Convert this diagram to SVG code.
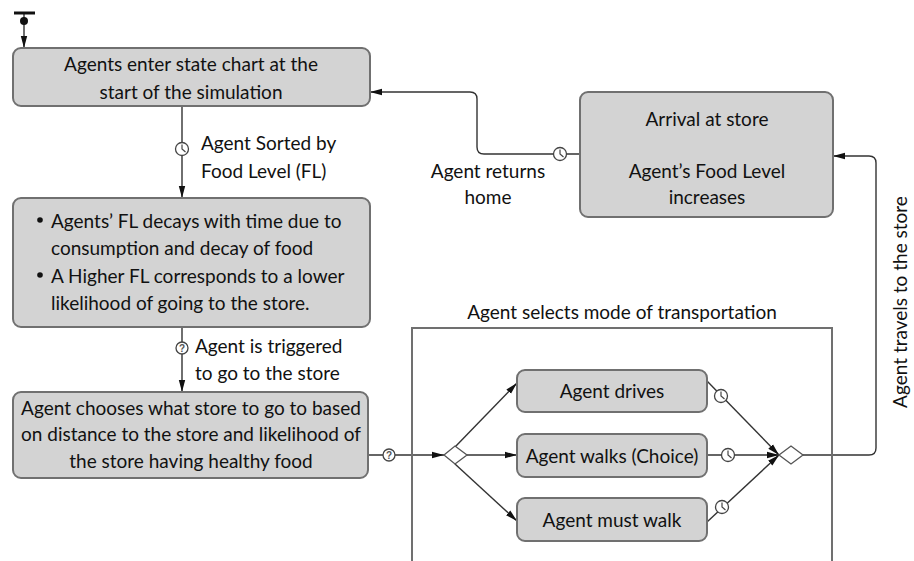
<svg xmlns="http://www.w3.org/2000/svg" width="914" height="561" viewBox="0 0 914 561">
<style>
.box{fill:#d3d3d3;stroke:#707070;stroke-width:2}
.t{font-family:Lato,"Open Sans",sans-serif;font-size:19px;fill:#111;text-anchor:middle;dominant-baseline:central}
.tl{font-family:Lato,"Open Sans",sans-serif;font-size:19px;fill:#111;dominant-baseline:central}
.ln{fill:none;stroke:#333;stroke-width:1.4}
.ic{fill:#fff;stroke:#444;stroke-width:1.3}
.q{font-family:"Liberation Sans",sans-serif;font-size:10px;font-weight:bold;fill:#555;text-anchor:middle;dominant-baseline:central}
</style>
<defs>
<marker id="ah" viewBox="0 0 12 8" refX="12" refY="4" markerWidth="12" markerHeight="8" markerUnits="userSpaceOnUse" orient="auto">
<path d="M0,0.8 L12,4 L0,7.2 Z" fill="#111"/>
</marker>
<g id="clk"><circle r="6.5" class="ic"/><path d="M0,-4.5 V0 L3.5,3" fill="none" stroke="#444" stroke-width="1.2"/></g>
<g id="qst"><circle r="6" class="ic"/><text class="q" y="0.5">?</text></g>
</defs>

<g id="connectors">
<line x1="24" y1="13" x2="24" y2="48" class="ln" marker-end="url(#ah)"/>
<line x1="182" y1="106" x2="182" y2="198" class="ln" marker-end="url(#ah)"/>
<use href="#clk" x="182" y="149"/>
<line x1="182" y1="327" x2="182" y2="392" class="ln" marker-end="url(#ah)"/>
<use href="#qst" x="182" y="348"/>
<path d="M368,455 H444" class="ln" marker-end="url(#ah)"/>
<use href="#qst" x="389" y="455"/>
<path d="M455,447 L517,383" class="ln" marker-end="url(#ah)"/>
<path d="M467,455 H517" class="ln" marker-end="url(#ah)"/>
<path d="M455,464 L517,521" class="ln" marker-end="url(#ah)"/>
<path d="M707,381 L779,455" class="ln" marker-end="url(#ah)"/>
<use href="#clk" x="721" y="396"/>
<path d="M707,455 H779" class="ln" marker-end="url(#ah)"/>
<use href="#clk" x="728" y="455"/>
<path d="M707,522 L779,455" class="ln" marker-end="url(#ah)"/>
<use href="#clk" x="722" y="507"/>
<path d="M803,455 H869 Q876,455 876,448 V163 Q876,156 869,156 H833" class="ln" marker-end="url(#ah)"/>
<path d="M580,154 H484 Q477,154 477,147 V99 Q477,92 470,92 H370" class="ln" marker-end="url(#ah)"/>
<use href="#clk" x="560" y="154"/>
</g>

<g id="start">
<line x1="14" y1="13" x2="35" y2="13" stroke="#111" stroke-width="3"/>
<circle cx="24" cy="21" r="4" fill="#111"/>
</g>

<g id="container">
<path d="M412,561 V328 H832 V561" fill="none" stroke="#707070" stroke-width="2"/>
<text class="t" x="622" y="311">Agent selects mode of transportation</text>
</g>

<g id="n1">
<rect class="box" x="13" y="48" width="357" height="58" rx="8"/>
<text class="t" x="191" y="63">Agents enter state chart at the</text>
<text class="t" x="191" y="91">start of the simulation</text>
</g>

<g id="l1">
<text class="tl" x="201" y="142">Agent Sorted by</text>
<text class="tl" x="201" y="170">Food Level (FL)</text>
</g>

<g id="n2">
<rect class="box" x="13" y="198" width="357" height="129" rx="8"/>
<circle cx="40" cy="220" r="2.8" fill="#111"/>
<circle cx="40" cy="275" r="2.8" fill="#111"/>
<text class="tl" x="51" y="220">Agents’ FL decays with time due to</text>
<text class="tl" x="51" y="247">consumption and decay of food</text>
<text class="tl" x="51" y="275">A Higher FL corresponds to a lower</text>
<text class="tl" x="51" y="302">likelihood of going to the store.</text>
</g>

<g id="l2">
<text class="tl" x="195" y="345">Agent is triggered</text>
<text class="tl" x="195" y="372">to go to the store</text>
</g>

<g id="n3">
<rect class="box" x="13" y="392" width="355" height="86" rx="8"/>
<text class="t" x="191" y="407">Agent chooses what store to go to based</text>
<text class="t" x="191" y="433">on distance to the store and likelihood of</text>
<text class="t" x="191" y="460">the store having healthy food</text>
</g>

<g id="d1"><path d="M444,455 L455,446 L467,455 L455,464 Z" fill="#fff" stroke="#555" stroke-width="1.3"/></g>
<g id="d2"><path d="M779,455 L791,446 L803,455 L791,464 Z" fill="#fff" stroke="#555" stroke-width="1.3"/></g>

<g id="n4">
<rect class="box" x="517" y="370" width="190" height="42" rx="8"/>
<text class="t" x="612" y="390">Agent drives</text>
</g>
<g id="n5">
<rect class="box" x="517" y="434" width="190" height="43" rx="8"/>
<text class="t" x="612" y="455">Agent walks (Choice)</text>
</g>
<g id="n6">
<rect class="box" x="517" y="498" width="190" height="43" rx="8"/>
<text class="t" x="612" y="519">Agent must walk</text>
</g>

<g id="n7">
<rect class="box" x="580" y="92" width="253" height="125" rx="8"/>
<text class="t" x="707" y="118">Arrival at store</text>
<text class="t" x="707" y="170">Agent’s Food Level</text>
<text class="t" x="707" y="196">increases</text>
</g>

<g id="l3">
<text class="t" x="488" y="170">Agent returns</text>
<text class="t" x="488" y="196">home</text>
</g>

<g id="l4">
<text class="t" transform="translate(899,302) rotate(-90)">Agent travels to the store</text>
</g>
</svg>
